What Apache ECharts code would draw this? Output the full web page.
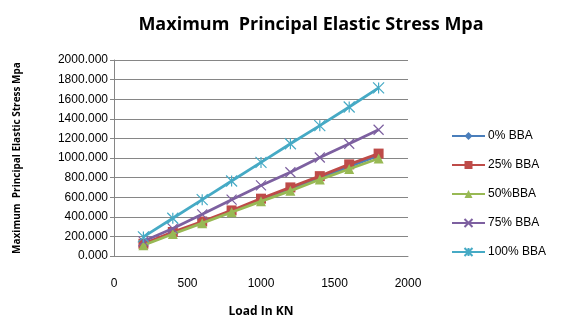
<!DOCTYPE html>
<html>
<head>
<meta charset="utf-8">
<script src="https://cdn.jsdelivr.net/npm/echarts@6/dist/echarts.min.js"></script>
<style>
  html, body { margin: 0; padding: 0; background: #fff; }
  #chart { width: 566px; height: 327px; }
</style>
</head>
<body>
<div id="chart"></div>
<script>
// Load steps (KN)
var loads = [200, 400, 600, 800, 1000, 1200, 1400, 1600, 1800];

// Maximum principal elastic stress (Mpa) per mix
var bba0   = [118, 232, 345, 458, 572, 685, 800, 912, 1025];
var bba25  = [125, 245, 352, 465, 585, 700, 815, 935, 1045];
var bba50  = [110, 225, 335, 447, 558, 665, 780, 888, 995];
var bba75  = [150, 280, 425, 575, 720, 855, 1005, 1145, 1288];
var bba100 = [195, 385, 575, 765, 955, 1145, 1330, 1520, 1715];

var seriesNames = ['0% BBA', '25% BBA', '50%BBA', '75% BBA', '100% BBA'];
var seriesValues = [bba0, bba25, bba50, bba75, bba100];
var colors = ['#4A7EBB', '#BE4B48', '#98B954', '#7D60A0', '#46AAC5'];
var symbols = [
  'diamond',
  'rect',
  'triangle',
  'path://M0,0L10,10M10,0L0,10',
  'path://M0,0L10,10M10,0L0,10M5,0L5,10'
];
var symbolSizes = [9, 10, 10, 10, 11];

function pairs(vals) {
  return loads.map(function (x, i) { return [x, vals[i]]; });
}

var series = seriesNames.map(function (name, i) {
  var stroked = i >= 3;
  return {
    name: name,
    type: 'line',
    data: pairs(seriesValues[i]),
    symbol: symbols[i],
    symbolSize: symbolSizes[i],
    showAllSymbol: true,
    lineStyle: { color: colors[i], width: 2.8 },
    itemStyle: stroked
      ? { color: 'rgba(0,0,0,0)', borderColor: colors[i], borderWidth: 1.2 }
      : { color: colors[i], borderWidth: 0 },
    z: 2 + i,
    animation: false
  };
});

var chart = echarts.init(document.getElementById('chart'), null, { renderer: 'canvas' });
chart.setOption({
  backgroundColor: '#ffffff',
  animation: false,
  title: {
    text: 'Maximum  Principal Elastic Stress Mpa',
    left: 306,
    textAlign: 'center',
    top: 11,
    textStyle: { fontFamily: 'Open Sans', fontWeight: 'bold', fontSize: 18, color: '#000' }
  },
  legend: {
    orient: 'vertical',
    left: 446,
    top: 125,
    itemGap: 17,
    itemWidth: 33,
    itemHeight: 10,
    textStyle: { fontFamily: 'Liberation Sans', fontSize: 12, color: '#000', padding: [0, 0, 0, -2] },
    data: seriesNames
  },
  grid: { left: 114, top: 60, width: 294, height: 196, containLabel: false },
  xAxis: {
    type: 'value',
    min: 0, max: 2000, interval: 500,
    name: 'Load In KN',
    nameLocation: 'middle',
    nameGap: 50,
    nameTextStyle: { fontFamily: 'Open Sans', fontWeight: 'bold', fontSize: 12, color: '#000' },
    axisLine: { show: true, lineStyle: { color: '#868686', width: 1 } },
    axisTick: { show: false },
    splitLine: { show: false },
    axisLabel: {
      color: '#000', fontFamily: 'Liberation Sans', fontSize: 12, margin: 22,
      formatter: function (v) { return String(v); }
    }
  },
  yAxis: {
    type: 'value',
    min: 0, max: 2000, interval: 200,
    name: 'Maximum  Principal Elastic Stress Mpa',
    nameLocation: 'middle',
    nameGap: 92,
    nameTextStyle: { fontFamily: 'Open Sans', fontWeight: 'bold', fontSize: 10, color: '#000' },
    axisLine: { show: true, lineStyle: { color: '#868686', width: 1 } },
    axisTick: { show: true, length: 4, inside: false, lineStyle: { color: '#868686' } },
    splitLine: { show: true, lineStyle: { color: '#868686', width: 1 } },
    axisLabel: {
      color: '#000', fontFamily: 'Liberation Sans', fontSize: 12, margin: 6,
      formatter: function (v) { return v.toFixed(3); }
    }
  },
  series: series
});
</script>
</body>
</html>
